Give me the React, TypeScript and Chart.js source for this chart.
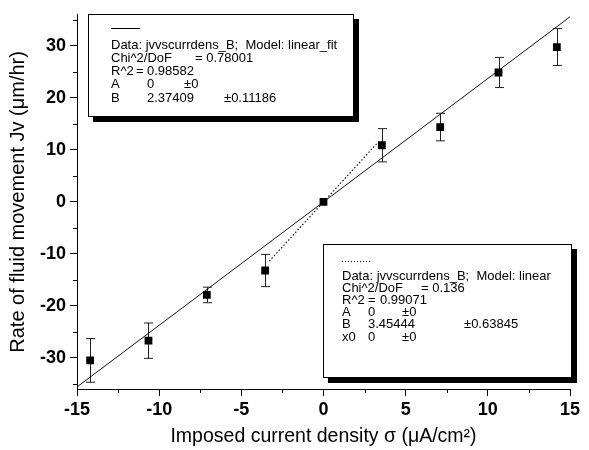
import React, { useEffect, useRef } from 'react';
import { Chart, registerables } from 'chart.js';

Chart.register(...registerables);

// Imposed current density σ (µA/cm²) for each measurement
const currentDensity = [-14.2, -10.65, -7.1, -3.55, 0, 3.55, 7.1, 10.65, 14.2];
// Rate of fluid movement Jv (µm/hr)
const fluidRate = [-30.5, -26.7, -17.9, -13.2, 0, 10.9, 14.4, 24.9, 29.8];
// Error bar half-heights
const rateError = [4.2, 3.4, 1.5, 3.1, 0, 3.2, 2.65, 2.9, 3.55];

// Fit slopes (both models pass through the origin, A = 0)
const linearFitSlope = 2.37409;
const linearSlope = 3.45444;
const linearFitRange = [-15, 15];
const linearRange = [-3.3, 3.3];

// Axis tick labels
const xTickValues = [-15, -10, -5, 0, 5, 10, 15];
const yTickValues = [-30, -20, -10, 0, 10, 20, 30];
const xMinorTicks = [-12.5, -7.5, -2.5, 2.5, 7.5, 12.5];
const yMinorTicks = [-35, -25, -15, -5, 5, 15, 25, 35];

// Fit report text boxes: [text, x offset from box left]
const linearFitReport: [string, number][][] = [
  [['Data: jvvscurrdens_B;  Model: linear_fit', 23]],
  [['Chi^2/DoF', 23], ['= 0.78001', 107]],
  [['R^2', 23], ['=', 48], ['0.98582', 59]],
  [['A', 23], ['0', 59], ['±0', 96]],
  [['B', 23], ['2.37409', 59], ['±0.11186', 136]],
];
const linearReport: [string, number][][] = [
  [['Data: jvvscurrdens_B;  Model: linear', 19]],
  [['Chi^2/DoF', 19], ['= 0.136', 98]],
  [['R^2', 19], ['=', 45], ['0.99071', 57]],
  [['A', 19], ['0', 45], ['±0', 79]],
  [['B', 19], ['3.45444', 45], ['±0.63845', 141]],
  [['x0', 19], ['0', 45], ['±0', 79]],
];

const FONT = '"Liberation Sans", Arial, Helvetica, sans-serif';

type BoxSpec = {
  left: number; top: number; width: number; height: number;
  sampleY: number; sampleX: number; sampleW: number; dotted: boolean;
  firstRowY: number; rowGap: number; rows: [string, number][][];
};

const boxes: BoxSpec[] = [
  {
    left: 88, top: 14, width: 266, height: 103,
    sampleX: 23, sampleY: 14, sampleW: 29, dotted: false,
    firstRowY: 31, rowGap: 13.3, rows: linearFitReport,
  },
  {
    left: 323, top: 244, width: 249, height: 134,
    sampleX: 19, sampleY: 17, sampleW: 28, dotted: true,
    firstRowY: 32, rowGap: 12.2, rows: linearReport,
  },
];

const errorBars = {
  id: 'errorBars',
  beforeDatasetsDraw(chart: any) {
    const { ctx, scales } = chart;
    const xs = scales.x;
    const ys = scales.y;
    ctx.save();
    ctx.strokeStyle = '#222';
    ctx.lineWidth = 1;
    currentDensity.forEach((cx, i) => {
      const e = rateError[i];
      if (!e) return;
      const px = Math.round(xs.getPixelForValue(cx)) + 0.5;
      const top = ys.getPixelForValue(fluidRate[i] + e);
      const bot = ys.getPixelForValue(fluidRate[i] - e);
      ctx.beginPath();
      ctx.moveTo(px, top);
      ctx.lineTo(px, bot);
      ctx.moveTo(px - 4.5, top);
      ctx.lineTo(px + 4.5, top);
      ctx.moveTo(px - 4.5, bot);
      ctx.lineTo(px + 4.5, bot);
      ctx.stroke();
    });
    ctx.restore();
  },
};

const decorations = {
  id: 'decorations',
  afterDraw(chart: any) {
    const { ctx, scales, chartArea } = chart;
    const xs = scales.x;
    const ys = scales.y;
    ctx.save();
    // minor ticks
    ctx.strokeStyle = '#000';
    ctx.lineWidth = 1;
    ctx.beginPath();
    xMinorTicks.forEach((v) => {
      const px = Math.round(xs.getPixelForValue(v)) + 0.5;
      ctx.moveTo(px, chartArea.bottom);
      ctx.lineTo(px, chartArea.bottom + 4);
    });
    yMinorTicks.forEach((v) => {
      const py = Math.round(ys.getPixelForValue(v)) + 0.5;
      ctx.moveTo(chartArea.left, py);
      ctx.lineTo(chartArea.left - 4, py);
    });
    ctx.stroke();

    // fit report boxes
    boxes.forEach((b) => {
      ctx.fillStyle = '#000';
      ctx.fillRect(b.left + 5, b.top + 5, b.width, b.height);
      ctx.fillStyle = '#fff';
      ctx.fillRect(b.left, b.top, b.width, b.height);
      ctx.strokeStyle = '#000';
      ctx.lineWidth = 1;
      ctx.strokeRect(b.left + 0.5, b.top + 0.5, b.width - 1, b.height - 1);

      ctx.beginPath();
      ctx.setLineDash(b.dotted ? [1, 2] : []);
      ctx.moveTo(b.left + b.sampleX, b.top + b.sampleY + 0.5);
      ctx.lineTo(b.left + b.sampleX + b.sampleW, b.top + b.sampleY + 0.5);
      ctx.stroke();
      ctx.setLineDash([]);

      ctx.fillStyle = '#000';
      ctx.font = `13px ${FONT}`;
      ctx.textBaseline = 'middle';
      ctx.textAlign = 'left';
      b.rows.forEach((row, r) => {
        const y = b.top + b.firstRowY + r * b.rowGap;
        row.forEach(([text, dx]) => ctx.fillText(text, b.left + dx, y));
      });
    });
    ctx.restore();
  },
};

export default function App() {
  const canvasRef = useRef<HTMLCanvasElement | null>(null);

  useEffect(() => {
    if (!canvasRef.current) return;
    const pointData = currentDensity.map((x, i) => ({ x, y: fluidRate[i] }));
    const fitLine = linearFitRange.map((x) => ({ x, y: linearFitSlope * x }));
    const linearLine = linearRange.map((x) => ({ x, y: linearSlope * x }));

    const chart = new Chart(canvasRef.current, {
      type: 'scatter',
      data: {
        datasets: [
          {
            label: 'jvvscurrdens_B',
            data: pointData,
            pointStyle: 'rect',
            pointRadius: 5.5,
            backgroundColor: '#000',
            borderColor: '#000',
            borderWidth: 0,
            showLine: false,
            order: 0,
          },
          {
            label: 'linear_fit',
            data: fitLine,
            showLine: true,
            pointRadius: 0,
            borderColor: '#111',
            borderWidth: 1,
            order: 1,
          },
          {
            label: 'linear',
            data: linearLine,
            showLine: true,
            pointRadius: 0,
            borderColor: '#111',
            borderWidth: 1.2,
            borderDash: [1.5, 2],
            order: 2,
          },
        ],
      },
      options: {
        animation: false,
        responsive: false,
        maintainAspectRatio: false,
        layout: { padding: { top: 11, right: 19, left: 0, bottom: 0 } },
        plugins: {
          legend: { display: false },
          tooltip: { enabled: false },
        },
        scales: {
          x: {
            type: 'linear',
            min: -15,
            max: 15,
            afterBuildTicks: (s: any) => {
              s.ticks = xTickValues.map((value) => ({ value }));
            },
            afterFit: (s: any) => {
              s.height = 61;
            },
            ticks: {
              color: '#000',
              font: { family: FONT, size: 18, weight: 'bold' },
              padding: 3,
              maxRotation: 0,
            },
            grid: {
              drawOnChartArea: false,
              drawTicks: true,
              tickLength: 7,
              tickColor: '#000',
              color: '#000',
            },
            border: { display: true, color: '#000', width: 1 },
            title: {
              display: true,
              text: 'Imposed current density σ (μA/cm²)',
              color: '#000',
              font: { family: FONT, size: 19.5 },
              padding: { top: 0, bottom: 2 },
            },
          },
          y: {
            type: 'linear',
            min: -36,
            max: 36,
            afterBuildTicks: (s: any) => {
              s.ticks = yTickValues.map((value) => ({ value }));
            },
            afterFit: (s: any) => {
              s.width = 77;
            },
            ticks: {
              color: '#000',
              font: { family: FONT, size: 18, weight: 'bold' },
              padding: 4,
            },
            grid: {
              drawOnChartArea: false,
              drawTicks: true,
              tickLength: 7,
              tickColor: '#000',
              color: '#000',
            },
            border: { display: true, color: '#000', width: 1 },
            title: {
              display: true,
              text: 'Rate of fluid movement Jv (μm/hr)',
              color: '#000',
              font: { family: FONT, size: 20 },
              padding: { top: 6, bottom: 0 },
            },
          },
        },
      },
      plugins: [errorBars, decorations],
    });

    return () => chart.destroy();
  }, []);

  return (
    <div style={{ position: 'absolute', left: 0, top: 0, width: 589, height: 450, background: '#fff' }}>
      <canvas ref={canvasRef} width={589} height={450} />
    </div>
  );
}
